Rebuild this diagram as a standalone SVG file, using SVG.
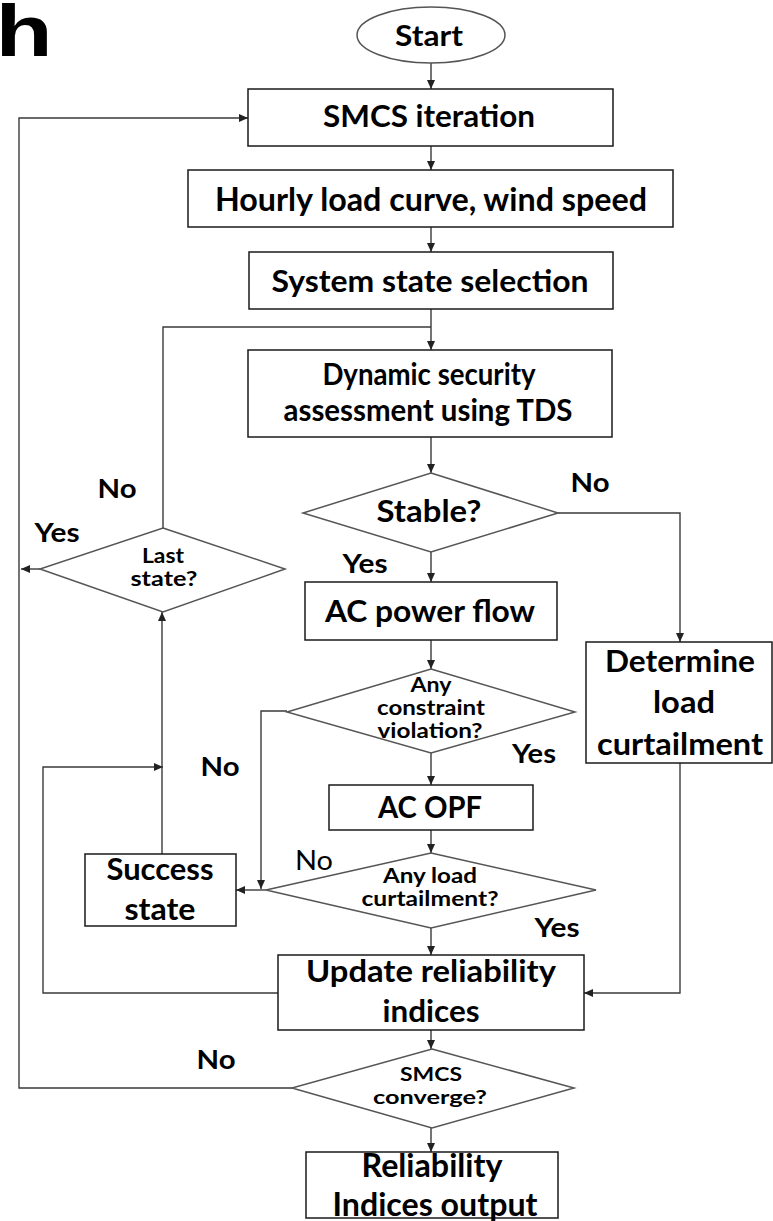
<svg xmlns="http://www.w3.org/2000/svg" width="773" height="1221" viewBox="0 0 773 1221">
<style>
.box{fill:#fff;stroke:#1a1a1a;stroke-width:1.5}
.dia{fill:#fff;stroke:#555;stroke-width:1.5}
.t{font-family:Lato,"Liberation Sans",sans-serif;font-weight:bold;fill:#000;text-anchor:middle}
.m{font-size:30px}
.s{font-size:21px}
.lbl{font-size:27px}
.c{fill:none;stroke:#3a3a3a;stroke-width:1.4}
</style>
<defs>
<marker id="ah" markerUnits="userSpaceOnUse" markerWidth="9" markerHeight="8" refX="9" refY="4" orient="auto">
<path d="M0,0 L9,4 L0,8 z" fill="#222"/>
</marker>
</defs>
<rect width="773" height="1221" fill="#fff"/>
<g id="panel-label"><text transform="translate(-4.5,56) scale(1.3,1)" x="0" y="0" style="font-family:'Liberation Sans',Arial,sans-serif;font-weight:bold;font-size:72px">h</text></g>

<g id="connectors">
<path class="c" d="M431,63 V89" marker-end="url(#ah)"/>
<path class="c" d="M431,146 V170" marker-end="url(#ah)"/>
<path class="c" d="M431,227 V252" marker-end="url(#ah)"/>
<path class="c" d="M431,309 V350" marker-end="url(#ah)"/>
<path class="c" d="M163,528 V327 H431"/>
<path class="c" d="M431,437 V473" marker-end="url(#ah)"/>
<path class="c" d="M558,513 H680 V642" marker-end="url(#ah)"/>
<path class="c" d="M431,552 V582" marker-end="url(#ah)"/>
<path class="c" d="M431,640 V669" marker-end="url(#ah)"/>
<path class="c" d="M431,753 V785" marker-end="url(#ah)"/>
<path class="c" d="M287,711 H261 V889" marker-end="url(#ah)"/>
<path class="c" d="M431,830 V853" marker-end="url(#ah)"/>
<path class="c" d="M266,890 H236" marker-end="url(#ah)"/>
<path class="c" d="M431,928 V955" marker-end="url(#ah)"/>
<path class="c" d="M680,763 V993 H584" marker-end="url(#ah)"/>
<path class="c" d="M278,993 H43 V767 H163" marker-end="url(#ah)"/>
<path class="c" d="M162,854 V612" marker-end="url(#ah)"/>
<path class="c" d="M40,569 H21" marker-end="url(#ah)"/>
<path class="c" d="M431,1030 V1049" marker-end="url(#ah)"/>
<path class="c" d="M292,1088 H19 V118 H248" marker-end="url(#ah)"/>
<path class="c" d="M431,1128 V1152" marker-end="url(#ah)"/>
</g>

<g id="start"><ellipse cx="431" cy="35" rx="74" ry="28" fill="#fff" stroke="#555" stroke-width="1.5"/>
<text class="t" style="font-size:28px" x="429" y="46" textLength="68" lengthAdjust="spacingAndGlyphs">Start</text></g>

<g id="smcs-iter"><rect class="box" x="248" y="89" width="365" height="57"/>
<text class="t m" x="429" y="127" textLength="212" lengthAdjust="spacingAndGlyphs">SMCS iteration</text></g>

<g id="hourly"><rect class="box" x="188" y="170" width="485" height="57"/>
<text class="t" style="font-size:32px" x="431" y="211" textLength="432" lengthAdjust="spacingAndGlyphs">Hourly load curve, wind speed</text></g>

<g id="system-state"><rect class="box" x="249" y="252" width="364" height="57"/>
<text class="t m" x="430" y="292" textLength="317" lengthAdjust="spacingAndGlyphs">System state selection</text></g>

<g id="dsa"><rect class="box" x="248" y="350" width="364" height="87"/>
<text class="t m" x="429" y="385" textLength="213" lengthAdjust="spacingAndGlyphs">Dynamic security</text>
<text class="t m" x="428" y="421" textLength="289" lengthAdjust="spacingAndGlyphs">assessment using TDS</text></g>

<g id="stable"><polygon class="dia" points="431,473 558,513 431,552 303,513"/>
<text class="t m" x="429" y="522" textLength="105" lengthAdjust="spacingAndGlyphs">Stable?</text></g>

<g id="acpf"><rect class="box" x="305" y="582" width="252" height="58"/>
<text class="t m" x="430" y="622" textLength="210" lengthAdjust="spacingAndGlyphs">AC power flow</text></g>

<g id="constraint"><polygon class="dia" points="431,669 575,712 431,753 287,712"/>
<text class="t s" x="431" y="692" textLength="41" lengthAdjust="spacingAndGlyphs">Any</text>
<text class="t s" x="431" y="715" textLength="108" lengthAdjust="spacingAndGlyphs">constraint</text>
<text class="t s" x="430" y="738" textLength="105" lengthAdjust="spacingAndGlyphs">violation?</text></g>

<g id="determine"><rect class="box" x="586" y="642" width="186" height="121"/>
<text class="t m" x="680" y="672" textLength="150" lengthAdjust="spacingAndGlyphs">Determine</text>
<text class="t m" x="684" y="713" textLength="62" lengthAdjust="spacingAndGlyphs">load</text>
<text class="t m" x="680" y="755" textLength="166" lengthAdjust="spacingAndGlyphs">curtailment</text></g>

<g id="acopf"><rect class="box" x="329" y="785" width="204" height="45"/>
<text class="t m" x="430" y="818" textLength="104" lengthAdjust="spacingAndGlyphs">AC OPF</text></g>

<g id="loadcurt"><polygon class="dia" points="431,853 596,890 431,928 266,890"/>
<text class="t s" x="430" y="883" textLength="94" lengthAdjust="spacingAndGlyphs">Any load</text>
<text class="t s" x="430" y="906" textLength="137" lengthAdjust="spacingAndGlyphs">curtailment?</text></g>

<g id="success"><rect class="box" x="85" y="854" width="151" height="72"/>
<text class="t m" x="160" y="880" textLength="107" lengthAdjust="spacingAndGlyphs">Success</text>
<text class="t m" x="160" y="920" textLength="71" lengthAdjust="spacingAndGlyphs">state</text></g>

<g id="laststate"><polygon class="dia" points="163,528 285,569 163,612 40,569"/>
<text class="t s" x="163" y="563" textLength="42" lengthAdjust="spacingAndGlyphs">Last</text>
<text class="t s" x="164" y="586" textLength="67" lengthAdjust="spacingAndGlyphs">state?</text></g>

<g id="update"><rect class="box" x="278" y="955" width="306" height="75"/>
<text class="t m" x="431" y="982" textLength="250" lengthAdjust="spacingAndGlyphs">Update reliability</text>
<text class="t m" x="431" y="1022" textLength="97" lengthAdjust="spacingAndGlyphs">indices</text></g>

<g id="converge"><polygon class="dia" points="432,1049 574,1088 432,1128 292,1088"/>
<text class="t" style="font-size:18px" x="431" y="1081" textLength="62" lengthAdjust="spacingAndGlyphs">SMCS</text>
<text class="t" style="font-size:18px" x="430" y="1104" textLength="114" lengthAdjust="spacingAndGlyphs">converge?</text></g>

<g id="output"><rect class="box" x="306" y="1152" width="252" height="66"/>
<text class="t" style="font-size:32px" x="432" y="1177" textLength="141" lengthAdjust="spacingAndGlyphs">Reliability</text>
<text class="t" style="font-size:32px" x="435" y="1216" textLength="205" lengthAdjust="spacingAndGlyphs">Indices output</text></g>

<g id="labels">
<text class="t lbl" x="117" y="498" textLength="39" lengthAdjust="spacingAndGlyphs">No</text>
<text class="t lbl" x="57" y="542" textLength="45" lengthAdjust="spacingAndGlyphs">Yes</text>
<text class="t lbl" x="590" y="492" textLength="39" lengthAdjust="spacingAndGlyphs">No</text>
<text class="t lbl" x="365" y="573" textLength="45" lengthAdjust="spacingAndGlyphs">Yes</text>
<text class="t lbl" x="534" y="763" textLength="44" lengthAdjust="spacingAndGlyphs">Yes</text>
<text class="t lbl" x="220" y="776" textLength="39" lengthAdjust="spacingAndGlyphs">No</text>
<text class="t lbl" x="314" y="870" style="font-weight:normal" textLength="38" lengthAdjust="spacingAndGlyphs">No</text>
<text class="t lbl" x="557" y="937" textLength="45" lengthAdjust="spacingAndGlyphs">Yes</text>
<text class="t lbl" x="216" y="1069" textLength="39" lengthAdjust="spacingAndGlyphs">No</text>
</g>
</svg>
